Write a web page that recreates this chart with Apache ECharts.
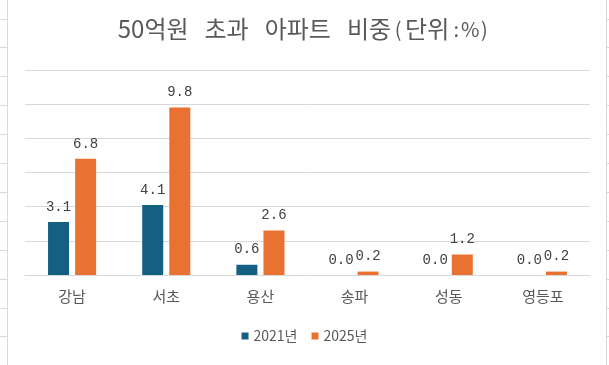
<!DOCTYPE html>
<html>
<head>
<meta charset="utf-8">
<script src="https://cdn.jsdelivr.net/npm/echarts@6/dist/echarts.min.js"></script>
<style>
html,body{margin:0;padding:0;background:#fff;}
#c{width:609px;height:365px;}
</style>
</head>
<body>
<div id="c"></div>
<script>
const categories = ['강남', '서초', '용산', '송파', '성동', '영등포'];
const series2021 = [3.1, 4.1, 0.6, 0.0, 0.0, 0.0];
const series2025 = [6.8, 9.8, 2.6, 0.2, 1.2, 0.2];
const seriesNames = ['2021년', '2025년'];
const titleWords = ['50억원', '초과', '아파트', '비중'];
const titleUnit = ['(', '단위', ':', '%', ')'];

const sheetLines = [];
for (let k = 0; k < 13; k++) {
  const y = Math.round(18.5 + k * 28.9) + 0.5;
  sheetLines.push({type:'line', shape:{x1:0, y1:y, x2:7, y2:y}, style:{stroke:'#D9D9D9', lineWidth:1}, silent:true});
  sheetLines.push({type:'line', shape:{x1:606, y1:y, x2:609, y2:y}, style:{stroke:'#D9D9D9', lineWidth:1}, silent:true});
}
sheetLines.push({type:'line', shape:{x1:7.5, y1:0, x2:7.5, y2:365}, style:{stroke:'#D9D9D9', lineWidth:1}, silent:true});
sheetLines.push({type:'line', shape:{x1:606.5, y1:0, x2:606.5, y2:365}, style:{stroke:'#D9D9D9', lineWidth:1}, silent:true});

let titleRich = titleWords.map(w => '{a|' + w + '}').join('{g|}');
titleRich += titleUnit.map(u => (u === '단위' ? '{a|' + u + '}' : '{p|' + u + '}')).join('');

const labelStyle = {
  show: true, position: 'top', distance: 8,
  fontFamily: '"Liberation Mono", "DejaVu Sans Mono", monospace',
  fontSize: 14, color: '#404040',
  formatter: p => p.value.toFixed(1)
};
const cjk = '"Noto Sans CJK KR", "Noto Sans", sans-serif';

const chart = echarts.init(document.getElementById('c'), null, {renderer:'canvas'});
chart.setOption({
  animation: false,
  backgroundColor: '#ffffff',
  graphic: sheetLines,
  title: {
    text: titleRich,
    left: 'center', top: 12,
    textStyle: {
      fontFamily: cjk, fontSize: 24, fontWeight: 'normal', color: '#595959',
      rich: {
        a: {fontFamily: cjk, fontSize: 24, color: '#595959'},
        g: {fontFamily: cjk, fontSize: 24, width: 16},
        p: {fontFamily: cjk, fontSize: 20, color: '#595959', width: 14, align: 'center'}
      }
    }
  },
  legend: {
    data: seriesNames,
    bottom: 17, left: 'center',
    itemWidth: 7, itemHeight: 7, itemGap: 14,
    icon: 'rect',
    textStyle: {fontFamily: cjk, fontSize: 14, color: '#595959'}
  },
  grid: {left: 25, right: 19, top: 70, bottom: 90, containLabel: false},
  xAxis: {
    type: 'category', data: categories,
    axisLine: {lineStyle: {color: '#D9D9D9'}},
    axisTick: {show: false},
    axisLabel: {fontFamily: cjk, fontSize: 15, color: '#595959', margin: 14}
  },
  yAxis: {
    type: 'value', min: 0, max: 12, interval: 2,
    axisLabel: {show: false}, axisLine: {show:false}, axisTick:{show:false},
    splitLine: {lineStyle: {color: '#D9D9D9'}}
  },
  series: [
    {name: seriesNames[0], type: 'bar', data: series2021, barWidth: 21, barGap: '29%', itemStyle:{color:'#156082'}, label: labelStyle},
    {name: seriesNames[1], type: 'bar', data: series2025, barWidth: 21, itemStyle:{color:'#E97132'}, label: labelStyle}
  ]
});
</script>
</body>
</html>
